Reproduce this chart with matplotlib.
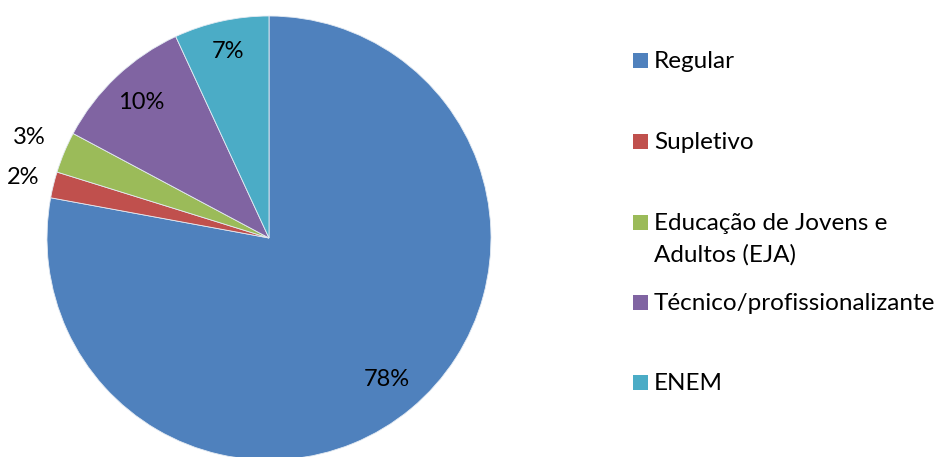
import numpy as np
import matplotlib.pyplot as plt
from matplotlib.patches import Rectangle

plt.rcParams['font.family'] = ['Lato', 'DejaVu Sans']

labels = ['Regular', 'Supletivo', 'Educação de Jovens e\nAdultos (EJA)',
          'Técnico/profissionalizante', 'ENEM']
values = [77.9, 1.9, 3.0, 10.3, 6.9]
pct_text = ['78%', '2%', '3%', '10%', '7%']
colors = ['#4F81BD', '#C0504D', '#9BBB59', '#8064A2', '#4BACC6']

W, H = 940, 457
fig = plt.figure(figsize=(W / 100, H / 100), dpi=100)

# pie centre (269, 238) px from top-left, radius 222 px
cx, cy, r = 269, 238, 222
ax = fig.add_axes([(cx - r) / W, (H - cy - r) / H, 2 * r / W, 2 * r / H])
ax.pie(values, colors=colors, startangle=90, counterclock=False, radius=1,
       wedgeprops=dict(linewidth=0.6, edgecolor='#e4ebf3'))
ax.set_xlim(-1, 1)
ax.set_ylim(-1, 1)
ax.axis('off')

label_r = [0.83, 1.14, 1.17, 0.84, 0.86]
ang = 90.0
for v, t, lr in zip(values, pct_text, label_r):
    mid = ang - v * 3.6 / 2
    ang -= v * 3.6
    ax.text(lr * np.cos(np.radians(mid)), lr * np.sin(np.radians(mid)), t,
            ha='center', va='center', fontsize=17, color='black', clip_on=False)

# legend (Excel-style, placed by hand)
rows_y = [60, 141, 222, 302, 382]
for lab, c, y in zip(labels, colors, rows_y):
    fig.patches.append(Rectangle((633 / W, (H - y - 7.5) / H), 15 / W, 15 / H,
                                 transform=fig.transFigure, facecolor=c,
                                 edgecolor='none'))
    fig.text(654 / W, (H - y + 9) / H, lab, ha='left', va='top', fontsize=17.5,
             linespacing=1.6)

fig.savefig('out.png', dpi=100)
